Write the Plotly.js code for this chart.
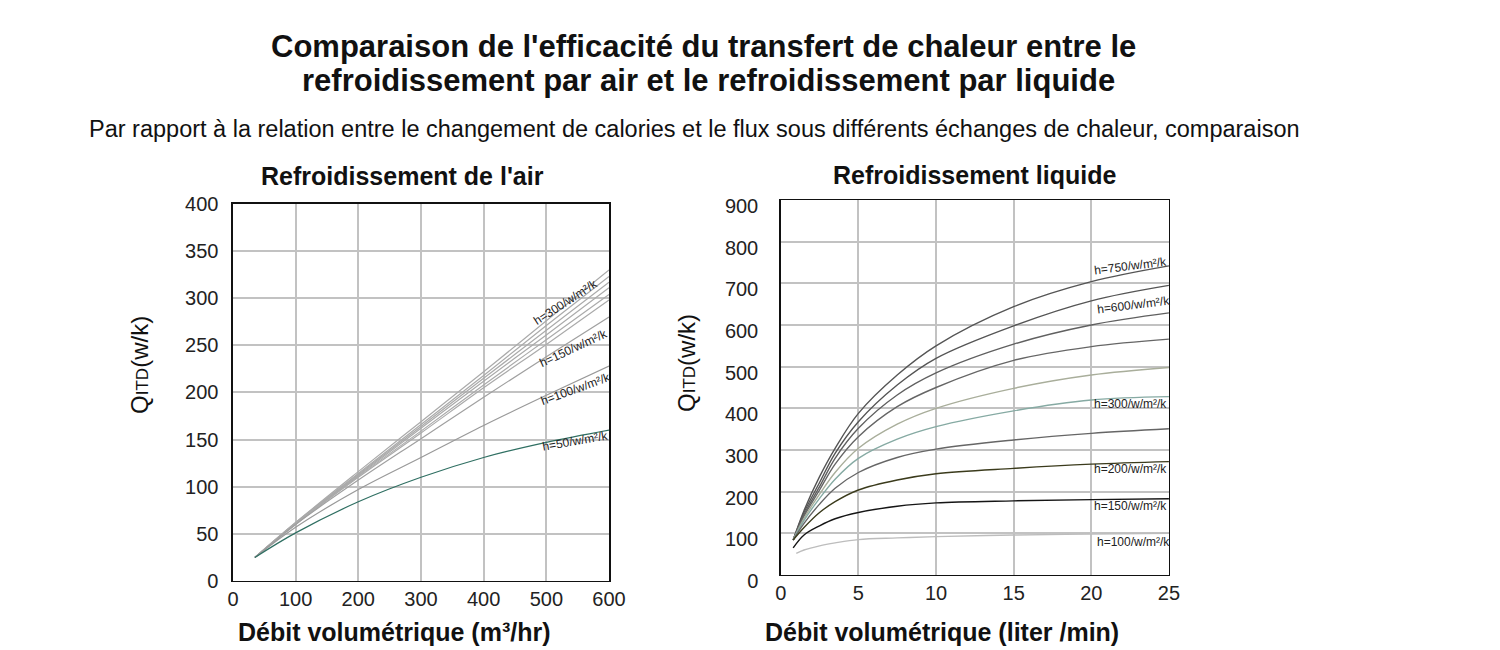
<!DOCTYPE html>
<html>
<head>
<meta charset="utf-8">
<script src="https://cdn.plot.ly/plotly-3.0.1.min.js"></script>
<style>
  body { margin: 0; background: #fff; }
  #chart { width: 1500px; height: 650px; }
</style>
</head>
<body>
<div id="chart"></div>
<script>
// air cooling: flow (m3/hr) vs Q
const airX = [35, 100, 200, 300, 400, 500, 600];
const air1 = [25, 62, 116, 169, 222, 276, 330];
const air2 = [25, 62, 114, 166, 218, 271, 323];
const air3 = [25, 61, 113, 164, 215, 266, 317];
const air4 = [25, 61, 112, 162, 212, 261, 311];
const air5 = [25, 61, 111, 159, 208, 256, 304];
const air6 = [25, 60, 110, 157, 205, 251, 298];
const air150 = [25, 60, 107, 151, 195, 238, 280];
const air100 = [25, 57, 97, 131, 165, 197, 228];
const air50 = [25, 51, 84, 110, 131, 147, 160];

// liquid cooling: flow (liter/min) vs Q
const liqX = [0.8, 1.5, 2.5, 3.5, 5, 7.5, 10, 15, 20, 25];
const liqX100 = [1, 1.5, 2.5, 3.5, 5, 7.5, 10, 15, 20, 25];
const liq750 = [84, 155, 236, 304, 388, 480, 550, 644, 704, 742];
const liq600 = [84, 150, 222, 292, 368, 456, 520, 598, 658, 695];
const liq3 = [84, 145, 212, 280, 352, 432, 485, 554, 600, 629];
const liq4 = [84, 141, 204, 266, 332, 404, 450, 515, 548, 566];
const liq5 = [84, 136, 194, 246, 304, 362, 400, 448, 480, 498];
const liq300 = [84, 131, 184, 230, 280, 326, 356, 394, 420, 428];
const liq7 = [84, 124, 170, 208, 246, 282, 302, 324, 340, 351];
const liq200 = [84, 114, 150, 176, 204, 228, 243, 256, 266, 272];
const liq150 = [65, 96, 118, 135, 150, 165, 173, 178, 181, 183];
const liq100 = [52, 60, 70, 77, 85, 89, 92, 96, 98, 100];

const airSeries = [
  [air1, "#aaaaaa"], [air2, "#aaaaaa"], [air3, "#aaaaaa"], [air4, "#aaaaaa"],
  [air5, "#aaaaaa"], [air6, "#aaaaaa"], [air150, "#a0a0a0"], [air100, "#999999"],
  [air50, "#2f6f62"]
];
const liqSeries = [
  [liqX, liq750, "#555555"], [liqX, liq600, "#555555"], [liqX, liq3, "#606060"],
  [liqX, liq4, "#666666"], [liqX, liq5, "#a9ae9b"], [liqX, liq300, "#86aaa3"],
  [liqX, liq7, "#666666"], [liqX, liq200, "#3b3b1c"], [liqX, liq150, "#151515"],
  [liqX100, liq100, "#bdbdbd"]
];

const traces = [];
airSeries.forEach(function (s) {
  traces.push({
    x: airX, y: s[0], type: "scatter", mode: "lines",
    line: { color: s[1], width: 1.2, shape: "spline" },
    xaxis: "x", yaxis: "y", hoverinfo: "skip"
  });
});
liqSeries.forEach(function (s) {
  traces.push({
    x: s[0], y: s[1], type: "scatter", mode: "lines",
    line: { color: s[2], width: 1.4, shape: "spline" },
    xaxis: "x2", yaxis: "y2", hoverinfo: "skip"
  });
});

const font = "Liberation Sans, Arial, sans-serif";
const axisBase = {
  showline: true, mirror: true, linecolor: "#111", linewidth: 1.5,
  showgrid: true, gridcolor: "#c2c2c2", gridwidth: 2,
  zeroline: false, ticks: "",
  tickfont: { family: font, size: 20, color: "#222" }
};

function lbl(x, y, ref, text, angle) {
  return {
    x: x, y: y, xref: "x" + ref, yref: "y" + ref, text: text, showarrow: false,
    xanchor: "center", yanchor: "middle",
    textangle: angle, font: { family: font, size: 12, color: "#222" }
  };
}
function paperText(x, y, text, size, bold, angle) {
  return {
    x: x, y: y, xref: "paper", yref: "paper", text: bold ? "<b>" + text + "</b>" : text,
    showarrow: false, textangle: angle || 0, xanchor: "center", yanchor: "middle",
    font: { family: font, size: size, color: "#111" }
  };
}

const yTitle = 'Q<span style="font-size:17px">ITD</span>(w/k)';

const layout = {
  width: 1500, height: 650,
  margin: { l: 0, r: 0, t: 0, b: 0 },
  paper_bgcolor: "#fff", plot_bgcolor: "#fff",
  showlegend: false,
  xaxis: Object.assign({}, axisBase, {
    domain: [0.1553, 0.406], range: [0, 600], dtick: 100, ticklabelstandoff: 0
  }),
  yaxis: Object.assign({}, axisBase, {
    domain: [0.1062, 0.6862], range: [0, 400], dtick: 50, ticklabelstandoff: 9
  }),
  xaxis2: Object.assign({}, axisBase, {
    domain: [0.5205, 0.7793], range: [0, 25], dtick: 5, anchor: "y2", ticklabelstandoff: 0
  }),
  yaxis2: Object.assign({}, axisBase, {
    domain: [0.1154, 0.6923], range: [0, 900], dtick: 100, anchor: "x2",
    ticklabelstandoff: 17, ticklabelshift: 6
  }),
  annotations: [
    paperText(0.4690, 0.9292, "Comparaison de l'efficacité du transfert de chaleur entre le", 31, true),
    paperText(0.4720, 0.8769, "refroidissement par air et le refroidissement par liquide", 31, true),
    paperText(0.4627, 0.8015, "Par rapport à la relation entre le changement de calories et le flux sous différents échanges de chaleur, comparaison", 23.5, false),
    paperText(0.268, 0.7292, "Refroidissement de l'air", 25, true),
    paperText(0.6497, 0.7308, "Refroidissement liquide", 25, true),
    paperText(0.263, 0.0277, "Débit volumétrique (m³/hr)", 25, true),
    paperText(0.6283, 0.0277, "Débit volumétrique (liter /min)", 25, true),
    paperText(0.0933, 0.4385, yTitle, 24, false, -90),
    paperText(0.4573, 0.4415, yTitle, 24, false, -90),
    lbl(531, 296, "", "h=300/w/m²/k", -33),
    lbl(544, 247, "", "h=150/w/m²/k", -25),
    lbl(547, 204, "", "h=100/w/m²/k", -20),
    lbl(547, 149, "", "h=50/w/m²/k", -10),
    lbl(22.5, 741, "2", "h=750/w/m²/k", -7),
    lbl(22.7, 648, "2", "h=600/w/m²/k", -7),
    lbl(22.5, 410, "2", "h=300/w/m²/k", 0),
    lbl(22.55, 254, "2", "h=200/w/m²/k", 0),
    lbl(22.55, 166, "2", "h=150/w/m²/k", 0),
    lbl(22.7, 79, "2", "h=100/w/m²/k", 0)
  ]
};

Plotly.newPlot("chart", traces, layout, { displayModeBar: false, staticPlot: true });
</script>
</body>
</html>
